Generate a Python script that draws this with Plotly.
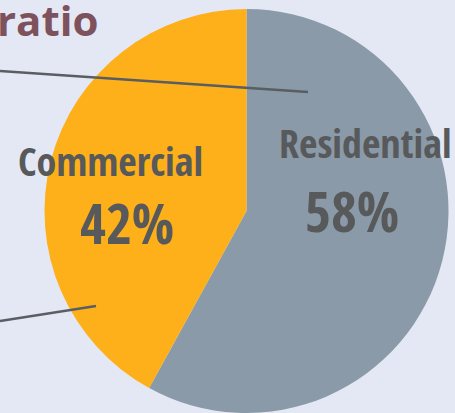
import plotly.graph_objects as go

W, H = 455, 413

labels = ["Residential", "Commercial"]
values = [58, 42]
colors = ["#8a9aa8", "#fdb01a"]
pct_text = ["58%", "42%"]

BG = "#e4e7f4"
TXT = "#58595b"

def px(x):
    return x / W

def py(y):
    return 1 - y / H

fig = go.Figure()
fig.add_trace(go.Pie(
    labels=labels,
    values=values,
    marker=dict(colors=colors, line=dict(width=0)),
    sort=False,
    direction="clockwise",
    rotation=0,
    textinfo="none",
    hoverinfo="label+percent",
    showlegend=False,
    domain=dict(x=[px(44.5), px(448.5)], y=[0, 404 / H]),
))

# leader lines
fig.add_shape(type="line", xref="paper", yref="paper",
              x0=px(0), y0=py(71), x1=px(308), y1=py(92),
              line=dict(color="#5a5d62", width=2.5))
fig.add_shape(type="line", xref="paper", yref="paper",
              x0=px(0), y0=py(321), x1=px(96), y1=py(306),
              line=dict(color="#5a5d62", width=2.5))

font_lab = "Open Sans Condensed, Roboto Condensed, sans-serif"

anns = [
    dict(text="<b>ratio</b>", x=px(101), y=py(19), xanchor="right", yanchor="middle",
         font=dict(family="Open Sans, sans-serif", size=42, color="#7d525c")),
    dict(text="<b>" + labels[0] + "</b>", x=px(365), y=py(142), xanchor="center", yanchor="middle",
         font=dict(family=font_lab, size=40, color=TXT)),
    dict(text="<b>" + pct_text[0] + "</b>", x=px(352), y=py(210), xanchor="center", yanchor="middle",
         font=dict(family=font_lab, size=56, color=TXT)),
    dict(text="<b>" + labels[1] + "</b>", x=px(110), y=py(160), xanchor="center", yanchor="middle",
         font=dict(family=font_lab, size=40, color=TXT)),
    dict(text="<b>" + pct_text[1] + "</b>", x=px(127), y=py(222), xanchor="center", yanchor="middle",
         font=dict(family=font_lab, size=56, color=TXT)),
]
for a in anns:
    a.update(xref="paper", yref="paper", showarrow=False)

fig.update_layout(
    width=W, height=H,
    margin=dict(l=0, r=0, t=0, b=0),
    paper_bgcolor=BG, plot_bgcolor=BG,
    annotations=anns,
)

fig.write_html("out.html", config={"displayModeBar": False},
               post_script="document.body.style.margin='0';")
